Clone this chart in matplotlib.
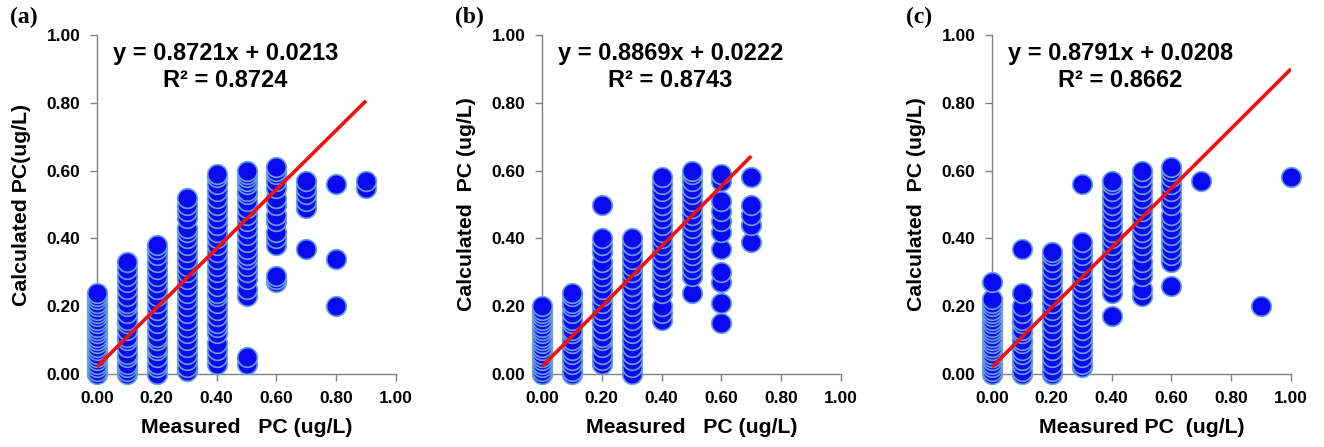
import matplotlib.pyplot as plt

# Measured PC -> list of calculated PC values

calc_a = {
    0.0: [0.00, 0.01, 0.02, 0.03, 0.04, 0.05, 0.06, 0.07, 0.08, 0.09, 0.10, 0.11,
          0.12, 0.13, 0.14, 0.15, 0.16, 0.17, 0.18, 0.19, 0.20, 0.21, 0.22, 0.23, 0.24],
    0.1: [0.00, 0.01, 0.02, 0.03, 0.05, 0.06, 0.08, 0.10, 0.11, 0.13, 0.15, 0.16,
          0.18, 0.20, 0.21, 0.23, 0.25, 0.27, 0.29, 0.31, 0.33],
    0.2: [0.00, 0.02, 0.03, 0.05, 0.07, 0.08, 0.10, 0.11, 0.13, 0.15, 0.17, 0.19,
          0.21, 0.23, 0.25, 0.27, 0.29, 0.31, 0.33, 0.35, 0.37, 0.38],
    0.3: [0.01, 0.02, 0.04, 0.06, 0.08, 0.10, 0.12, 0.14, 0.16, 0.18, 0.20, 0.22,
          0.24, 0.26, 0.28, 0.30, 0.32, 0.34, 0.36, 0.38, 0.40, 0.42, 0.43, 0.46,
          0.48, 0.50, 0.52],
    0.4: [0.03, 0.05, 0.07, 0.09, 0.12, 0.14, 0.15, 0.17, 0.19, 0.21, 0.23, 0.24,
          0.26, 0.28, 0.30, 0.32, 0.34, 0.36, 0.38, 0.40, 0.42, 0.44, 0.46, 0.48,
          0.50, 0.52, 0.54, 0.56, 0.58, 0.59],
    0.5: [0.03, 0.05, 0.23, 0.25, 0.28, 0.30, 0.32, 0.34, 0.35, 0.37, 0.39, 0.41,
          0.43, 0.45, 0.47, 0.49, 0.51, 0.53, 0.54, 0.56, 0.57, 0.58, 0.59, 0.60],
    0.6: [0.27, 0.28, 0.29, 0.38, 0.40, 0.42, 0.45, 0.47, 0.50, 0.52, 0.55, 0.57,
          0.59, 0.60, 0.61],
    0.7: [0.37, 0.49, 0.51, 0.53, 0.55, 0.57],
    0.8: [0.20, 0.34, 0.56],
    0.9: [0.55, 0.57],
}

calc_b = {
    0.0: [0.00, 0.01, 0.02, 0.03, 0.04, 0.05, 0.06, 0.07, 0.08, 0.09, 0.10, 0.11,
          0.12, 0.13, 0.14, 0.15, 0.16, 0.17, 0.18, 0.19, 0.20],
    0.1: [0.00, 0.01, 0.03, 0.04, 0.06, 0.07, 0.09, 0.10, 0.12, 0.13, 0.15, 0.16,
          0.18, 0.20, 0.21, 0.23, 0.24],
    0.2: [0.03, 0.04, 0.06, 0.08, 0.10, 0.11, 0.13, 0.15, 0.17, 0.19, 0.21, 0.23,
          0.25, 0.27, 0.29, 0.31, 0.33, 0.36, 0.38, 0.40, 0.50],
    0.3: [0.00, 0.02, 0.04, 0.06, 0.08, 0.10, 0.12, 0.14, 0.16, 0.18, 0.20, 0.22,
          0.24, 0.26, 0.28, 0.30, 0.32, 0.34, 0.36, 0.38, 0.40],
    0.4: [0.16, 0.18, 0.20, 0.24, 0.26, 0.28, 0.30, 0.32, 0.34, 0.36, 0.38, 0.40,
          0.42, 0.44, 0.46, 0.48, 0.50, 0.52, 0.54, 0.56, 0.58],
    0.5: [0.24, 0.29, 0.31, 0.33, 0.35, 0.37, 0.39, 0.41, 0.43, 0.45, 0.47, 0.49,
          0.51, 0.53, 0.55, 0.57, 0.59, 0.60],
    0.6: [0.15, 0.21, 0.27, 0.30, 0.37, 0.42, 0.45, 0.48, 0.51, 0.57, 0.59],
    0.7: [0.39, 0.44, 0.47, 0.50, 0.58],
}

calc_c = {
    0.0: [0.00, 0.01, 0.02, 0.03, 0.04, 0.05, 0.06, 0.07, 0.08, 0.09, 0.10, 0.11,
          0.12, 0.13, 0.14, 0.15, 0.16, 0.17, 0.18, 0.19, 0.20, 0.21, 0.22, 0.27],
    0.1: [0.00, 0.01, 0.03, 0.04, 0.06, 0.07, 0.09, 0.10, 0.12, 0.13, 0.15, 0.16,
          0.18, 0.20, 0.24, 0.37],
    0.2: [0.00, 0.01, 0.03, 0.05, 0.07, 0.09, 0.11, 0.13, 0.15, 0.17, 0.19, 0.21,
          0.23, 0.25, 0.27, 0.29, 0.31, 0.33, 0.35, 0.36],
    0.3: [0.02, 0.03, 0.05, 0.07, 0.09, 0.11, 0.13, 0.15, 0.17, 0.19, 0.21, 0.23,
          0.25, 0.27, 0.29, 0.31, 0.33, 0.35, 0.37, 0.39, 0.56],
    0.4: [0.17, 0.24, 0.26, 0.28, 0.30, 0.32, 0.34, 0.36, 0.38, 0.40, 0.42, 0.44,
          0.46, 0.48, 0.50, 0.52, 0.54, 0.56, 0.57],
    0.5: [0.23, 0.25, 0.29, 0.31, 0.33, 0.36, 0.38, 0.40, 0.42, 0.44, 0.46, 0.48,
          0.50, 0.52, 0.54, 0.56, 0.58, 0.60],
    0.6: [0.26, 0.33, 0.35, 0.37, 0.39, 0.41, 0.43, 0.45, 0.47, 0.50, 0.52, 0.54,
          0.56, 0.58, 0.60, 0.61],
    0.7: [0.57],
    0.9: [0.20],
    1.0: [0.58],
}

# slope, intercept, r2, x end of fitted line
fits = [(0.8721, 0.0213, 0.8724, 0.9),
        (0.8869, 0.0222, 0.8743, 0.7),
        (0.8791, 0.0208, 0.8662, 1.0)]

panel_tags = ['(a)', '(b)', '(c)']
xlabels = ['Measured   PC (ug/L)', 'Measured   PC (ug/L)', 'Measured PC  (ug/L)']
ylabels = ['Calculated PC(ug/L)', 'Calculated  PC (ug/L)', 'Calculated  PC (ug/L)']
ticks = [0.0, 0.2, 0.4, 0.6, 0.8, 1.0]

plt.rcParams['font.family'] = ['Liberation Sans', 'DejaVu Sans']
plt.rcParams['font.weight'] = 'bold'

fig = plt.figure(figsize=(13.24, 4.47), dpi=100)

lefts = [97, 542, 992]
for i, data in enumerate([calc_a, calc_b, calc_c]):
    ax = fig.add_axes([lefts[i] / 1324, 1 - 374 / 447, 299 / 1324, 339 / 447])

    xs, ys = [], []
    for k, vals in data.items():
        xs += [k] * len(vals)
        ys += vals
    ax.scatter(xs, ys, s=200, c='#0A0AF0', edgecolors='#6A9FE0',
               linewidths=1.2, clip_on=False, zorder=3)

    m, b, r2, xend = fits[i]
    ax.plot([0, xend], [b, m * xend + b], color='#F01010', lw=2.6,
            zorder=4, solid_capstyle='butt')

    ax.text(0.43, 0.945, 'y = {:.4f}x + {:.4f}'.format(m, b), ha='center',
            va='center', fontsize=17, fontweight='bold')
    ax.text(0.43, 0.865, 'R² = {:.4f}'.format(r2), ha='center',
            va='center', fontsize=17, fontweight='bold')

    ax.set_xlim(0, 1)
    ax.set_ylim(0, 1)
    ax.set_xticks(ticks)
    ax.set_yticks(ticks)
    ax.set_xticklabels(['{:.2f}'.format(t) for t in ticks])
    ax.set_yticklabels(['{:.2f}'.format(t) for t in ticks])
    ax.tick_params(labelsize=12.5, length=5, width=1, color='#808080',
                   direction='out', pad=7)
    for lab in ax.get_xticklabels() + ax.get_yticklabels():
        lab.set_fontweight('bold')
    for sp in ['top', 'right']:
        ax.spines[sp].set_visible(False)
    for sp in ['left', 'bottom']:
        ax.spines[sp].set_color('#808080')
        ax.spines[sp].set_linewidth(1)

    ax.set_xlabel(xlabels[i], fontsize=15.3, fontweight='bold', labelpad=9)
    ax.set_ylabel(ylabels[i], fontsize=15.3, fontweight='bold', labelpad=11)

    fig.text((lefts[i] - 73) / 1324, 1 - 17 / 447, panel_tags[i],
             family='Liberation Serif', fontsize=17, fontweight='bold',
             ha='center', va='center')

fig.savefig('out.png', dpi=100)
